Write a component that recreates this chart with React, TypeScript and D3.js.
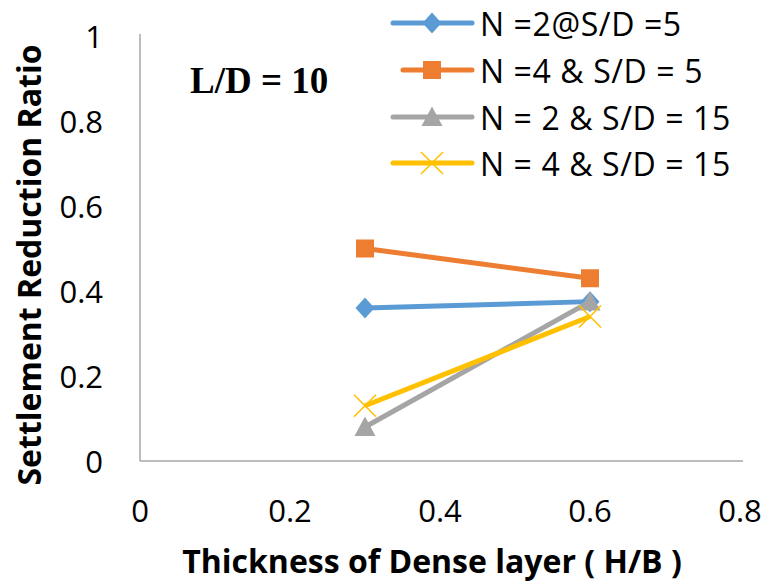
import React from "react";
import * as d3 from "d3";

const xValues = [0.3, 0.6];
const seriesNames = ["N =2@S/D =5", "N =4 & S/D = 5", "N = 2 & S/D = 15", "N = 4 & S/D = 15"];
const seriesA = [0.36, 0.375];
const seriesB = [0.5, 0.43];
const seriesC = [0.08, 0.375];
const seriesD = [0.13, 0.34];
const xTicks = [0, 0.2, 0.4, 0.6, 0.8];
const yTicks = [0, 0.2, 0.4, 0.6, 0.8, 1];
const colors = ["#5b9bd5", "#ed7d31", "#a5a5a5", "#ffc000"];
const markers = ["diamond", "square", "triangle", "x"];

const W = 771, H = 586;
const x = d3.scaleLinear().domain([0, 0.8]).range([140, 740]);
const y = d3.scaleLinear().domain([0, 1]).range([461, 36]);

function Marker({ type, cx, cy, color }: { type: string; cx: number; cy: number; color: string }) {
  if (type === "diamond") {
    const s = 9.5;
    return <path d={`M${cx},${cy - s - 1}L${cx + s},${cy}L${cx},${cy + s + 1}L${cx - s},${cy}Z`} fill={color} />;
  }
  if (type === "square") {
    const s = 9;
    return <rect x={cx - s} y={cy - s} width={2 * s} height={2 * s} fill={color} />;
  }
  if (type === "triangle") {
    const s = 10.5;
    return <path d={`M${cx},${cy - s}L${cx + s},${cy + s * 0.85}L${cx - s},${cy + s * 0.85}Z`} fill={color} />;
  }
  const s = 11;
  return (
    <path d={`M${cx - s},${cy - s}L${cx + s},${cy + s}M${cx - s},${cy + s}L${cx + s},${cy - s}`} stroke={color} strokeWidth={1.6} fill="none" />
  );
}

export default function App() {
  const all = [seriesA, seriesB, seriesC, seriesD];
  const line = d3.line<number>().x((_, i) => x(xValues[i])).y((d) => y(d));
  const font = "'Open Sans', sans-serif";
  const legendY = [23, 70, 117, 163];
  return (
    <svg width={W} height={H} style={{ position: "absolute", left: 0, top: 0, background: "#fff" }}>
      <rect width={W} height={H} fill="#fff" />
      <line x1={x(0)} x2={x(0)} y1={y(1) - 2} y2={y(0)} stroke="#a6a6a6" strokeWidth={1.5} />
      <line x1={x(0)} x2={x(0.8) + 3} y1={y(0)} y2={y(0)} stroke="#a6a6a6" strokeWidth={1.5} />
      {yTicks.map((t) => (
        <text key={t} x={103} y={y(t)} textAnchor="end" dominantBaseline="central" fontFamily={font} fontSize={31} fill="#000">
          {d3.format("~g")(t)}
        </text>
      ))}
      {xTicks.map((t) => (
        <text key={t} x={x(t)} y={510} textAnchor="middle" dominantBaseline="central" fontFamily={font} fontSize={31} fill="#000">
          {d3.format("~g")(t)}
        </text>
      ))}
      <text x={432} y={573} textAnchor="middle" fontFamily={font} fontWeight="bold" fontSize={32} fill="#000">
        Thickness of Dense layer ( H/B )
      </text>
      <text transform={`translate(41,265) rotate(-90)`} textAnchor="middle" fontFamily={font} fontWeight="bold" fontSize={32} fill="#000">
        Settlement Reduction Ratio
      </text>
      <text x={190} y={93} fontFamily="'Liberation Serif', serif" fontWeight="bold" fontSize={37} fill="#000">
        L/D = 10
      </text>
      {all.map((s, k) => (
        <g key={k}>
          <path d={line(s) || ""} fill="none" stroke={colors[k]} strokeWidth={5} />
          {s.map((v, i) => (
            <Marker key={i} type={markers[k]} cx={x(xValues[i])} cy={y(v)} color={colors[k]} />
          ))}
        </g>
      ))}
      {seriesNames.map((n, k) => (
        <g key={n}>
          <line x1={k === 1 ? 403 : 393} x2={472} y1={legendY[k]} y2={legendY[k]} stroke={colors[k]} strokeWidth={5} strokeLinecap="round" />
          <Marker type={markers[k]} cx={432} cy={legendY[k]} color={colors[k]} />
          <text x={480} y={legendY[k]} dominantBaseline="central" fontFamily={font} fontSize={32} letterSpacing={0.6} fill="#000">
            {n}
          </text>
        </g>
      ))}
    </svg>
  );
}
